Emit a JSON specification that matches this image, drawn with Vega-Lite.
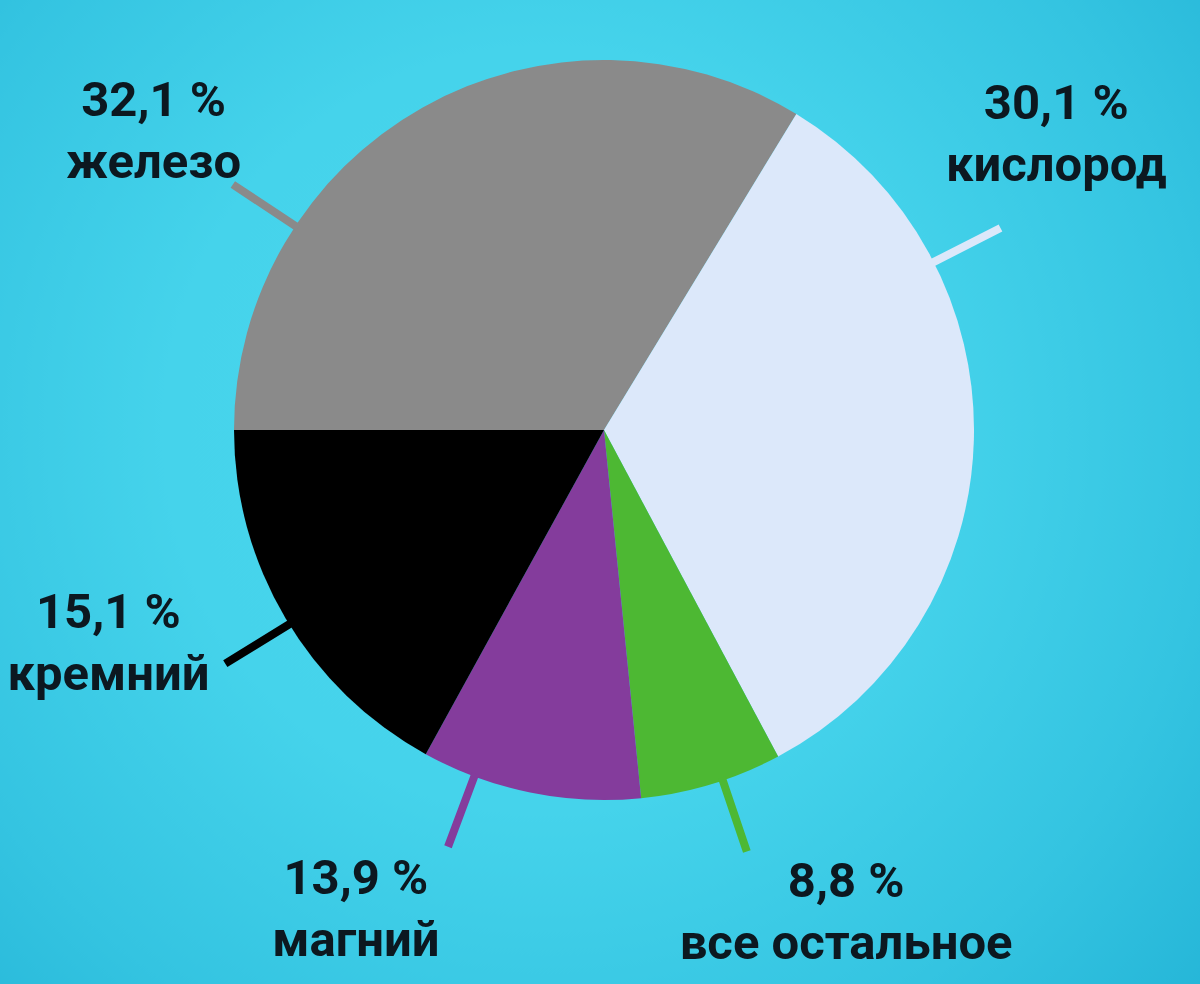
{
  "$schema": "https://vega.github.io/schema/vega-lite/v6.json",
  "autosize": "none",
  "width": 1192,
  "height": 860,
  "padding": {"left": 8, "top": 0, "right": 0, "bottom": 124},
  "background": "#3ccbe6",
  "config": {"view": {"stroke": null}},
  "data": {
    "values": [
      {"element": "железо", "label": "32,1 %\nжелезо", "share": 33.7, "ord": 1, "ptr": 9.3, "lab": 9.3},
      {"element": "кислород", "label": "30,1 %\nкислород", "share": 33.5, "ord": 2, "ptr": 42.5, "lab": 40.8},
      {"element": "все остальное", "label": "8,8 %\nвсе остальное", "share": 6.2, "ord": 3, "ptr": 69.8, "lab": 67.6},
      {"element": "магний", "label": "13,9 %\nмагний", "share": 9.6, "ord": 4, "ptr": 80.7, "lab": 82.6},
      {"element": "кремний", "label": "15,1 %\nкремний", "share": 17.0, "ord": 5, "ptr": 91.2, "lab": 93.5}
    ]
  },
  "layer": [
    {
      "data": {"values": [{"bg": 1}]},
      "mark": {
        "type": "arc",
        "theta": 0,
        "theta2": 6.2832,
        "radius": 950,
        "fill": {
          "gradient": "radial",
          "x1": 0.47, "y1": 0.5, "r1": 0,
          "x2": 0.47, "y2": 0.5, "r2": 0.5,
          "stops": [
            {"offset": 0, "color": "#4ad7ee"},
            {"offset": 0.4, "color": "#45d3eb"},
            {"offset": 0.7, "color": "#34c4e1"},
            {"offset": 1, "color": "#1fb0d4"}
          ]
        }
      },
      "encoding": {}
    },
    {
      "mark": {"type": "arc", "radius": 370},
      "encoding": {
        "theta": {"field": "share", "type": "quantitative", "stack": true,
                  "scale": {"domain": [0, 100], "range": [-1.5708, 4.7124]}},
        "order": {"field": "ord", "type": "quantitative"},
        "color": {
          "field": "element", "type": "nominal", "legend": null,
          "scale": {
            "domain": ["железо", "кислород", "все остальное", "магний", "кремний"],
            "range": ["#8a8a8a", "#dce8fa", "#4db833", "#843c9c", "#000000"]
          }
        }
      }
    },
    {
      "mark": {"type": "arc", "filled": false, "radius": 445, "radius2": 367, "strokeWidth": 8, "strokeCap": "butt"},
      "encoding": {
        "theta": {"field": "ptr", "type": "quantitative", "stack": null,
                  "scale": {"domain": [0, 100], "range": [-1.5708, 4.7124]}},
        "theta2": {"field": "ptr"},
        "color": {"field": "element", "type": "nominal", "legend": null}
      }
    },
    {
      "mark": {
        "type": "text",
        "radius": 540,
        "font": "Roboto",
        "fontWeight": "bold",
        "fontSize": 49,
        "lineHeight": 62,
        "lineBreak": "\n",
        "align": "center",
        "baseline": "middle",
        "dy": -31,
        "color": "#0c1820"
      },
      "encoding": {
        "theta": {"field": "lab", "type": "quantitative", "stack": null,
                  "scale": {"domain": [0, 100], "range": [-1.5708, 4.7124]}},
        "text": {"field": "label", "type": "nominal"}
      }
    }
  ]
}
